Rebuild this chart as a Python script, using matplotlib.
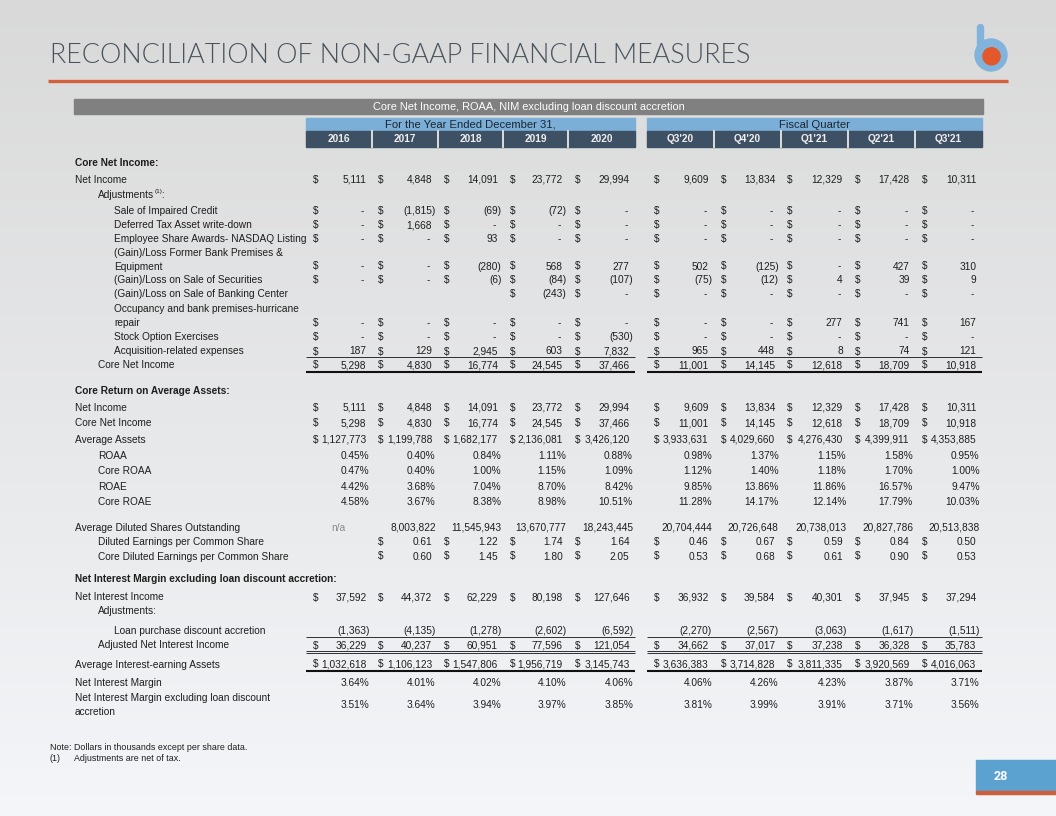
import numpy as np
import matplotlib
matplotlib.use('Agg')
import matplotlib.pyplot as plt
from matplotlib.patches import Rectangle, Circle

# ---------------- data ----------------
years = ['2016', '2017', '2018', '2019', '2020']
quarters = ["Q3'20", "Q4'20", "Q1'21", "Q2'21", "Q3'21"]

net_income = [5111, 4848, 14091, 23772, 29994, 9609, 13834, 12329, 17428, 10311]
sale_impaired_credit = [0, -1815, -69, -72, 0, 0, 0, 0, 0, 0]
deferred_tax_writedown = [0, 1668, 0, 0, 0, 0, 0, 0, 0, 0]
employee_share_awards = [0, 0, 93, 0, 0, 0, 0, 0, 0, 0]
gain_loss_premises = [0, 0, -280, 568, 277, 502, -125, 0, 427, 310]
gain_loss_securities = [0, 0, -6, -84, -107, -75, -12, 4, 39, 9]
gain_loss_banking_center = [None, None, None, -243, 0, 0, 0, 0, 0, 0]
hurricane_repair = [0, 0, 0, 0, 0, 0, 0, 277, 741, 167]
stock_option_exercises = [0, 0, 0, 0, -530, 0, 0, 0, 0, 0]
acquisition_expenses = [187, 129, 2945, 603, 7832, 965, 448, 8, 74, 121]
core_net_income = [5298, 4830, 16774, 24545, 37466, 11001, 14145, 12618, 18709, 10918]

average_assets = [1127773, 1199788, 1682177, 2136081, 3426120,
                  3933631, 4029660, 4276430, 4399911, 4353885]
roaa = [0.45, 0.40, 0.84, 1.11, 0.88, 0.98, 1.37, 1.15, 1.58, 0.95]
core_roaa = [0.47, 0.40, 1.00, 1.15, 1.09, 1.12, 1.40, 1.18, 1.70, 1.00]
roae = [4.42, 3.68, 7.04, 8.70, 8.42, 9.85, 13.86, 11.86, 16.57, 9.47]
core_roae = [4.58, 3.67, 8.38, 8.98, 10.51, 11.28, 14.17, 12.14, 17.79, 10.03]
avg_diluted_shares = [None, 8003822, 11545943, 13670777, 18243445,
                      20704444, 20726648, 20738013, 20827786, 20513838]
diluted_eps = [None, 0.61, 1.22, 1.74, 1.64, 0.46, 0.67, 0.59, 0.84, 0.50]
core_diluted_eps = [None, 0.60, 1.45, 1.80, 2.05, 0.53, 0.68, 0.61, 0.90, 0.53]

net_interest_income = [37592, 44372, 62229, 80198, 127646, 36932, 39584, 40301, 37945, 37294]
loan_discount_accretion = [-1363, -4135, -1278, -2602, -6592, -2270, -2567, -3063, -1617, -1511]
adjusted_nii = [36229, 40237, 60951, 77596, 121054, 34662, 37017, 37238, 36328, 35783]
avg_earning_assets = [1032618, 1106123, 1547806, 1956719, 3145743,
                      3636383, 3714828, 3811335, 3920569, 4016063]
nim = [3.64, 4.01, 4.02, 4.10, 4.06, 4.06, 4.26, 4.23, 3.87, 3.71]
nim_ex_accretion = [3.51, 3.64, 3.94, 3.97, 3.85, 3.81, 3.99, 3.91, 3.71, 3.56]

# ---------------- layout ----------------
W, H = 1056, 816
FONT = 'Liberation Sans'
FS = 7.3
TXT = '#1e1e1e'

fig = plt.figure(figsize=(W / 100, H / 100), dpi=100)
ax = fig.add_axes([0, 0, 1, 1])
grad = np.linspace(0, 1, 256)[:, None, None]
top = np.array([0.851, 0.851, 0.851])
bot = np.array([0.955, 0.963, 0.975])
ax.imshow(top + (bot - top) * grad, extent=[0, W, H, 0], aspect='auto', zorder=0)
ax.set_xlim(0, W)
ax.set_ylim(H, 0)
ax.axis('off')
renderer = fig.canvas.get_renderer()

# title
t = ax.text(50, 63, 'RECONCILIATION OF NON-GAAP FINANCIAL MEASURES', fontsize=20,
            family=['Lato', 'DejaVu Sans'], fontweight=300, color='#4a535c',
            ha='left', va='baseline')
wpx = t.get_window_extent(renderer).width
t.set_fontsize(20 * 700 / wpx)
ax.plot([48, 1008], [80.5, 80.5], color='#d2603a', lw=2.4, solid_capstyle='butt')

# logo
ax.plot([979.7, 979.7], [27, 52], color='#82b3dc', lw=5.3, solid_capstyle='round', zorder=3)
ax.add_patch(Circle((991, 55), 16, color='#82b3dc', zorder=3))
ax.add_patch(Circle((991.5, 56.3), 8.6, color='#e1592c', zorder=4))

# header bars
ax.add_patch(Rectangle((74, 99), 983 - 74, 14.5, color='#808080', zorder=2))
ax.text(528.5, 106.5, 'Core Net Income, ROAA, NIM excluding loan discount accretion',
        family=FONT, fontsize=7.9, color='white', ha='center', va='center', zorder=3)

year_edges = [306, 371.7, 437.7, 503.3, 568.3, 635]
qtr_edges = [647.3, 714, 780.7, 848.3, 915, 981.7]
lefts = year_edges[:-1] + qtr_edges[:-1]
rights = year_edges[1:] + qtr_edges[1:]

for edges, title in [(year_edges, 'For the Year Ended December 31,'), (qtr_edges, 'Fiscal Quarter')]:
    ax.add_patch(Rectangle((edges[0], 117.5), edges[-1] - edges[0], 13.5, color='#7bafd7', zorder=2))
    ax.text((edges[0] + edges[-1]) / 2, 124.8, title, family=FONT, fontsize=8.1, color='#1c2731',
            ha='center', va='center', zorder=3)
for lab, l, r in zip(years + quarters, lefts, rights):
    ax.add_patch(Rectangle((l, 131), r - l, 15.7, color='#3e5064', zorder=2))
    ax.text((l + r) / 2, 139, lab, family=FONT, fontsize=7.3, fontweight='bold', color='#eeeeee',
            ha='center', va='center', zorder=3)
for x in lefts[1:5] + lefts[6:]:
    ax.plot([x, x], [131, 146.7], color='#e8e8e8', lw=1.3, zorder=3)

INDENT = {0: 75, 1: 98, 2: 114}


def label(y, s, ind=0, bold=False):
    return ax.text(INDENT[ind], y, s, family=FONT, fontsize=FS, color=TXT,
                   fontweight='bold' if bold else 'normal', ha='left', va='center')


def vtext(x, y, s, ha='right', color=TXT):
    ax.text(x, y, s, family=FONT, fontsize=FS, color=color, ha=ha, va='center')


def values(y, data, kind, dollar):
    for v, l, r in zip(data, lefts, rights):
        if v is None:
            if kind == 'shares':
                vtext((l + r) / 2, y, 'n/a', ha='center', color='#8a8a8a')
            continue
        if dollar:
            vtext(l + 6.5, y, '$', ha='left')
        if kind == 'acct':
            if v == 0:
                vtext(r - 9, y, '-', ha='center')
            elif v < 0:
                vtext(r - 2, y, f'({abs(v):,})')
            else:
                vtext(r - 5.5, y, f'{v:,}')
        elif kind == 'pct':
            vtext(r - 2, y, f'{v:.2f}%')
        elif kind == 'shares':
            vtext(r - 2, y, f'{v:,}')
        elif kind == 'eps':
            vtext(r - 5.5, y, f'{v:.2f}')


def hline(y, lw=0.6):
    for a, b in [(year_edges[0], year_edges[-1]), (qtr_edges[0], qtr_edges[-1])]:
        ax.plot([a, b], [y, y], color='#111111', lw=lw, solid_capstyle='butt')


# Section 1
label(163, 'Core Net Income:', bold=True)
label(180, 'Net Income'); values(180, net_income, 'acct', True)
ta = label(195.5, 'Adjustments', 1)
ex = ta.get_window_extent(renderer)
ax.text(ex.x1 + 0.3, 192, '(1)', family=FONT, fontsize=4.6, color=TXT, ha='left', va='center')
ax.text(ex.x1 + 7.2, 195.5, ':', family=FONT, fontsize=FS, color=TXT, ha='left', va='center')
label(211, 'Sale of Impaired Credit', 2); values(211, sale_impaired_credit, 'acct', True)
label(225, 'Deferred Tax Asset write-down', 2); values(225, deferred_tax_writedown, 'acct', True)
label(239, 'Employee Share Awards- NASDAQ Listing', 2); values(239, employee_share_awards, 'acct', True)
label(252.5, '(Gain)/Loss Former Bank Premises &', 2)
label(266.5, 'Equipment', 2); values(266.5, gain_loss_premises, 'acct', True)
label(280, '(Gain)/Loss on Sale of Securities', 2); values(280, gain_loss_securities, 'acct', True)
label(294, '(Gain)/Loss on Sale of Banking Center', 2); values(294, gain_loss_banking_center, 'acct', True)
label(309, 'Occupancy and bank premises-hurricane', 2)
label(323, 'repair', 2); values(323, hurricane_repair, 'acct', True)
label(337, 'Stock Option Exercises', 2); values(337, stock_option_exercises, 'acct', True)
label(351.5, 'Acquisition-related expenses', 2); values(351.5, acquisition_expenses, 'acct', True)
hline(356.7)
label(365, 'Core Net Income', 1); values(365, core_net_income, 'acct', True)
hline(372, lw=1.5)

# Section 2
label(391, 'Core Return on Average Assets:', bold=True)
label(408, 'Net Income'); values(408, net_income, 'acct', True)
label(423, 'Core Net Income'); values(423, core_net_income, 'acct', True)
label(440, 'Average Assets'); values(440, average_assets, 'acct', True)
label(456, 'ROAA', 1); values(456, roaa, 'pct', False)
label(471, 'Core ROAA', 1); values(471, core_roaa, 'pct', False)
label(487, 'ROAE', 1); values(487, roae, 'pct', False)
label(502, 'Core ROAE', 1); values(502, core_roae, 'pct', False)
label(528, 'Average Diluted Shares Outstanding'); values(528, avg_diluted_shares, 'shares', False)
label(542, 'Diluted Earnings per Common Share', 1); values(542, diluted_eps, 'eps', True)
label(556.5, 'Core Diluted Earnings per Common Share', 1); values(556.5, core_diluted_eps, 'eps', True)

# Section 3
label(579, 'Net Interest Margin excluding loan discount accretion:', bold=True)
label(597.5, 'Net Interest Income'); values(597.5, net_interest_income, 'acct', True)
label(611, 'Adjustments:', 1)
label(631.5, 'Loan purchase discount accretion', 2); values(631.5, loan_discount_accretion, 'acct', False)
hline(636.5)
label(645.5, 'Adjusted Net Interest Income', 1); values(645.5, adjusted_nii, 'acct', True)
hline(650.5); hline(653)
label(664.5, 'Average Interest-earning Assets'); values(664.5, avg_earning_assets, 'acct', True)
hline(671, lw=1.5)
label(683.5, 'Net Interest Margin'); values(683.5, nim, 'pct', False)
label(698, 'Net Interest Margin excluding loan discount')
label(712, 'accretion'); values(705, nim_ex_accretion, 'pct', False)

# notes
ax.text(50, 747.5, 'Note: Dollars in thousands except per share data.', family=FONT,
        fontsize=6.4, color=TXT, ha='left', va='center')
ax.text(50, 758.5, '(1)', family=FONT, fontsize=6.4, color=TXT, ha='left', va='center')
ax.text(74.5, 758.5, 'Adjustments are net of tax.', family=FONT, fontsize=6.4, color=TXT,
        ha='left', va='center')

# page number box
ax.add_patch(Rectangle((978, 762), 80, 32, color='#b8bcc0', alpha=0.5, zorder=2))
ax.add_patch(Rectangle((976, 760), 80, 31, color='#5ca2d1', zorder=3))
ax.add_patch(Rectangle((976, 791), 80, 2.5, color='#cf5f3b', zorder=3))
ax.text(1001, 776.5, '28', family=['Roboto', 'DejaVu Sans'], fontsize=9, fontweight='bold',
        color='white', ha='center', va='center', zorder=4)

fig.savefig('out.png', dpi=100)
